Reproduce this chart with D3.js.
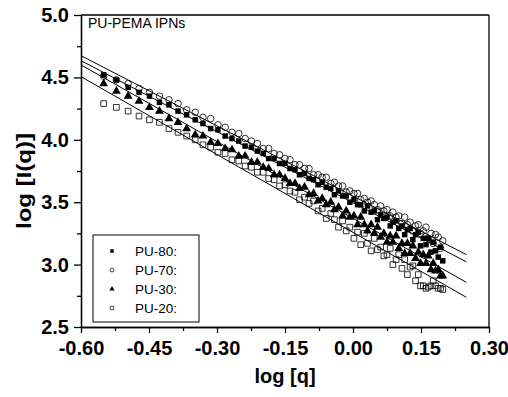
<!DOCTYPE html>
<html>
<head>
<meta charset="utf-8">
<script src="https://cdn.jsdelivr.net/npm/d3@7"></script>
<style>
  body { margin: 0; background: #fff; }
  svg text { font-family: "Liberation Sans", Arial, sans-serif; }
</style>
</head>
<body>
<svg id="chart" width="508" height="397"></svg>
<script>
// log q values shared by all four samples
const logQ = [-0.550, -0.522, -0.496, -0.472, -0.449, -0.427, -0.406, -0.386, -0.367, -0.348,
  -0.331, -0.314, -0.298, -0.282, -0.267, -0.252, -0.238, -0.224, -0.211, -0.198,
  -0.186, -0.174, -0.162, -0.150, -0.139, -0.128, -0.118, -0.107, -0.097, -0.087,
  -0.077, -0.068, -0.059, -0.049, -0.041, -0.032, -0.023, -0.015, -0.007, 0.002,
  0.010, 0.017, 0.025, 0.032, 0.040, 0.047, 0.054, 0.061, 0.068, 0.075,
  0.082, 0.088, 0.095, 0.101, 0.108, 0.114, 0.120, 0.126, 0.132, 0.138,
  0.144, 0.149, 0.155, 0.161, 0.166, 0.172, 0.177, 0.182, 0.188, 0.193, 0.198];

const pu80 = [4.52, 4.48, 4.42, 4.38, 4.35, 4.30, 4.28, 4.23, 4.20, 4.16,
  4.13, 4.09, 4.08, 4.03, 4.01, 3.99, 3.95, 3.94, 3.91, 3.89,
  3.85, 3.85, 3.81, 3.81, 3.77, 3.76, 3.72, 3.73, 3.69, 3.68,
  3.64, 3.66, 3.62, 3.61, 3.56, 3.59, 3.55, 3.55, 3.50, 3.52,
  3.48, 3.48, 3.43, 3.47, 3.42, 3.43, 3.36, 3.40, 3.37, 3.38,
  3.31, 3.34, 3.35, 3.29, 3.31, 3.24, 3.28, 3.29, 3.20, 3.24,
  3.26, 3.15, 3.21, 3.16, 3.21, 3.10, 3.18, 3.11, 3.06, 3.14, 3.03];

const pu70 = [4.51, 4.48, 4.45, 4.41, 4.38, 4.35, 4.32, 4.29, 4.24, 4.22,
  4.18, 4.17, 4.12, 4.10, 4.06, 4.05, 4.01, 3.99, 3.97, 3.93,
  3.93, 3.89, 3.88, 3.85, 3.84, 3.80, 3.80, 3.77, 3.77, 3.72,
  3.72, 3.70, 3.70, 3.65, 3.66, 3.63, 3.63, 3.58, 3.59, 3.57,
  3.57, 3.52, 3.53, 3.50, 3.51, 3.48, 3.44, 3.47, 3.43, 3.44,
  3.39, 3.42, 3.38, 3.39, 3.33, 3.38, 3.32, 3.34, 3.27, 3.31,
  3.32, 3.25, 3.27, 3.30, 3.21, 3.25, 3.17, 3.24, 3.22, 3.13, 3.19];

const pu30 = [4.45, 4.39, 4.35, 4.31, 4.26, 4.23, 4.17, 4.14, 4.09, 4.04,
  4.03, 3.98, 3.97, 3.93, 3.92, 3.87, 3.87, 3.82, 3.82, 3.78,
  3.77, 3.72, 3.72, 3.69, 3.65, 3.65, 3.61, 3.62, 3.56, 3.57,
  3.51, 3.53, 3.48, 3.50, 3.44, 3.46, 3.39, 3.43, 3.38, 3.39,
  3.32, 3.38, 3.32, 3.27, 3.32, 3.25, 3.30, 3.22, 3.25, 3.18,
  3.23, 3.18, 3.23, 3.13, 3.17, 3.09, 3.17, 3.09, 3.15, 3.05,
  3.10, 3.01, 3.08, 3.01, 3.07, 2.96, 3.01, 2.95, 2.96, 2.91, 2.91];

const pu20 = [4.29, 4.26, 4.23, 4.19, 4.16, 4.14, 4.09, 4.06, 4.03, 4.00,
  3.96, 3.94, 3.90, 3.89, 3.84, 3.83, 3.79, 3.78, 3.74, 3.74,
  3.69, 3.68, 3.63, 3.64, 3.59, 3.58, 3.52, 3.54, 3.49, 3.51,
  3.43, 3.45, 3.37, 3.41, 3.36, 3.30, 3.35, 3.27, 3.30, 3.21,
  3.26, 3.16, 3.25, 3.17, 3.11, 3.21, 3.12, 3.14, 3.07, 3.08,
  3.13, 3.00, 3.04, 3.08, 2.97, 3.04, 2.92, 2.98, 2.99, 2.87,
  2.92, 2.83, 2.83, 2.81, 2.82, 2.83, 2.87, 2.83, 2.81, 2.81, 2.80];

// straight fitted lines, end points [log q] -> [log I]
const fitX = [-0.60, 0.25];
const fit70 = [4.674, 3.080];
const fit80 = [4.634, 3.022];
const fit30 = [4.600, 2.858];
const fit20 = [4.506, 2.738];

const xTicks = [-0.60, -0.45, -0.30, -0.15, 0.00, 0.15, 0.30];
const xMinor = [-0.525, -0.375, -0.225, -0.075, 0.075, 0.225];
const yTicks = [2.5, 3.0, 3.5, 4.0, 4.5, 5.0];
const yMinor = [2.75, 3.25, 3.75, 4.25, 4.75];

const seriesNames = ["PU-80:", "PU-70:", "PU-30:", "PU-20:"];
const seriesValues = [pu80, pu70, pu30, pu20];
const fitLines = [fit70, fit80, fit30, fit20];

const svg = d3.select("#chart");

const x = d3.scaleLinear().domain([-0.60, 0.30]).range([81, 489]);
const y = d3.scaleLinear().domain([2.5, 5.0]).range([327, 15]);

const symbolStyle = [
  { type: d3.symbolSquare, size: 30, fill: "#000", stroke: "none" },
  { type: d3.symbolCircle, size: 34, fill: "none", stroke: "#000" },
  { type: d3.symbolTriangle, size: 34, fill: "#000", stroke: "none" },
  { type: d3.symbolSquare, size: 32, fill: "none", stroke: "#000" }
];

// fitted lines
const line = d3.line().x(d => x(d[0])).y(d => y(d[1]));
fitLines.forEach(f => {
  svg.append("path")
    .attr("d", line(fitX.map((v, i) => [v, f[i]])))
    .attr("fill", "none")
    .attr("stroke", "#000")
    .attr("stroke-width", 1);
});

// data points
seriesValues.forEach((vals, s) => {
  const st = symbolStyle[s];
  svg.append("g").selectAll("path")
    .data(vals.map((v, i) => [logQ[i], v]))
    .join("path")
    .attr("transform", d => `translate(${x(d[0])},${y(d[1])})`)
    .attr("d", d3.symbol().type(st.type).size(st.size))
    .attr("fill", st.fill)
    .attr("stroke", st.stroke)
    .attr("stroke-width", 0.8);
});

// frame top / right
svg.append("line").attr("x1", x(-0.60)).attr("x2", x(0.30)).attr("y1", y(5.0)).attr("y2", y(5.0))
  .attr("stroke", "#000").attr("stroke-width", 1.3);
svg.append("line").attr("x1", x(0.30)).attr("x2", x(0.30)).attr("y1", y(5.0)).attr("y2", y(2.5))
  .attr("stroke", "#000").attr("stroke-width", 1.3);

// axes
const xAxis = svg.append("g")
  .attr("transform", `translate(0,${y(2.5)})`)
  .call(d3.axisBottom(x).tickValues(xTicks).tickSize(6).tickSizeOuter(0).tickPadding(8)
    .tickFormat(d => d.toFixed(2)));
svg.append("g")
  .attr("transform", `translate(0,${y(2.5)})`)
  .call(d3.axisBottom(x).tickValues(xMinor).tickSize(4).tickSizeOuter(0).tickFormat(""));

const yAxis = svg.append("g")
  .attr("transform", `translate(${x(-0.60)},0)`)
  .call(d3.axisLeft(y).tickValues(yTicks).tickSize(7).tickSizeOuter(0).tickPadding(5)
    .tickFormat(d => d.toFixed(1)));
svg.append("g")
  .attr("transform", `translate(${x(-0.60)},0)`)
  .call(d3.axisLeft(y).tickValues(yMinor).tickSize(4).tickSizeOuter(0).tickFormat(""));

svg.selectAll(".domain, .tick line").attr("stroke", "#000").attr("stroke-width", 1.3);
[xAxis, yAxis].forEach(a => a.selectAll("text")
  .attr("fill", "#000")
  .style("font-size", "20px")
  .style("font-weight", "bold"));

// axis titles
svg.append("text")
  .attr("x", 285)
  .attr("y", 383)
  .attr("text-anchor", "middle")
  .style("font-size", "20px")
  .style("font-weight", "bold")
  .text("log [q]");

svg.append("text")
  .attr("transform", "translate(31,181) rotate(-90)")
  .attr("text-anchor", "middle")
  .attr("textLength", 96)
  .attr("lengthAdjust", "spacingAndGlyphs")
  .style("font-size", "21px")
  .style("font-weight", "bold")
  .text("log [I(q)]");

// panel title
svg.append("text")
  .attr("x", 88)
  .attr("y", 28)
  .style("font-size", "14px")
  .text("PU-PEMA IPNs");

// legend
const legend = svg.append("g");
legend.append("rect")
  .attr("x", 93).attr("y", 235).attr("width", 106).attr("height", 87)
  .attr("fill", "#fff").attr("stroke", "#000").attr("stroke-width", 1);

seriesNames.forEach((name, i) => {
  const st = symbolStyle[i];
  const cy = 251 + i * 19;
  legend.append("path")
    .attr("transform", `translate(112,${cy})`)
    .attr("d", d3.symbol().type(st.type).size(12))
    .attr("fill", st.fill)
    .attr("stroke", st.stroke)
    .attr("stroke-width", 0.7);
  legend.append("text")
    .attr("x", 135)
    .attr("y", cy + 5)
    .style("font-size", "13.5px")
    .text(name);
});
</script>
</body>
</html>
